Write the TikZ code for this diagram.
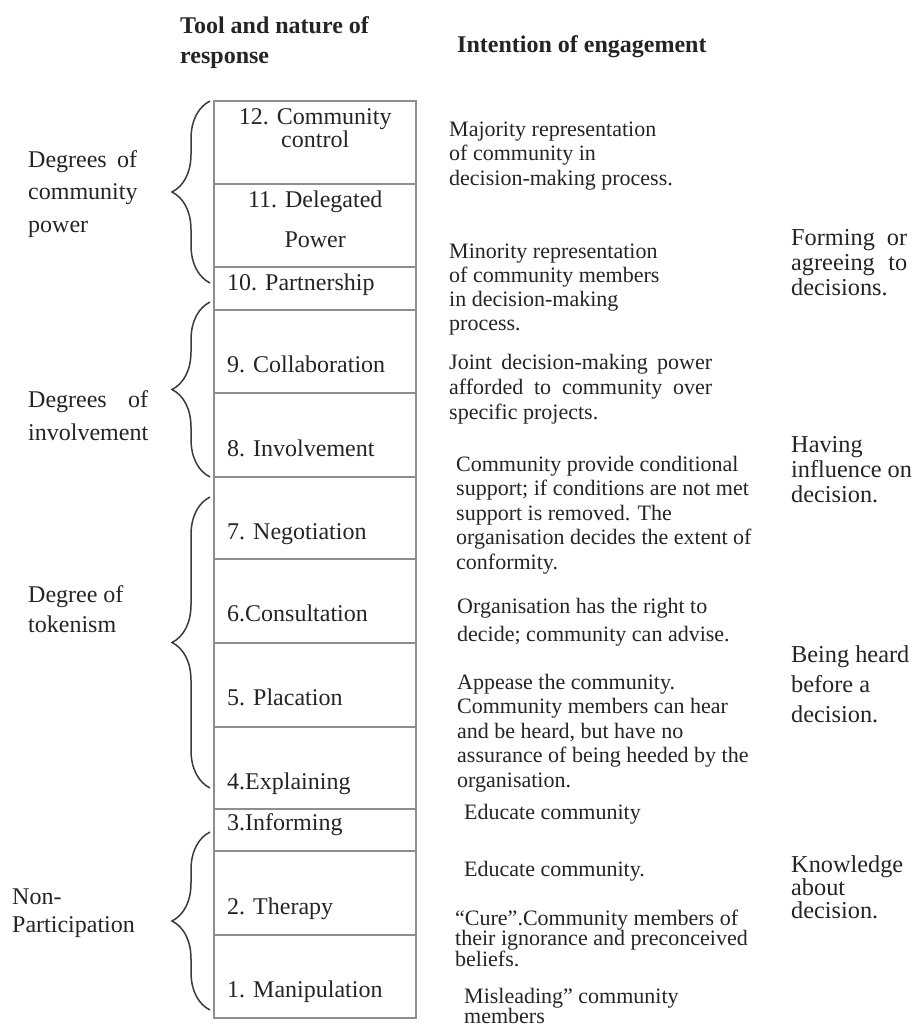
\documentclass[tikz,border=0pt]{standalone}
\usepackage{fontspec}
\setmainfont{Liberation Serif}
\usetikzlibrary{decorations.pathreplacing}
\definecolor{ink}{HTML}{242424}
\definecolor{rungline}{HTML}{8E8E8E}
\definecolor{bracecol}{HTML}{3A3A3A}
\newcommand\mlines[2]{\vtop{\baselineskip=#1pt\lineskiplimit=-100pt\lineskip=0pt\relax #2}}
\tikzset{
  rung/.style={draw=rungline, line width=1.6pt, minimum width=202pt, inner sep=0pt, outer sep=0pt},
  boxtxt/.style={font=\fontsize{24}{29}\selectfont, text=ink, inner sep=0pt, anchor=base west},
  lbl/.style={font=\fontsize{24}{29}\selectfont, text=ink, inner sep=0pt, anchor=base west},
  desc/.style={font=\fontsize{22}{24}\selectfont, text=ink, inner sep=0pt, anchor=base west},
  side/.style={font=\fontsize{24.3}{28}\selectfont, text=ink, inner sep=0pt, anchor=base west},
  hdr/.style={font=\bfseries\fontsize{24}{30}\selectfont, text=ink, inner sep=0pt, anchor=base west},
  brc/.style={draw=bracecol, line width=1.5pt, decorate, decoration={brace, amplitude=38pt}}
}
\begin{document}
\begin{tikzpicture}[x=1pt,y=-1pt]
\useasboundingbox (0,0) rectangle (914,1028);

% headers
\node[hdr] (h1) at (180,33) {\mlines{30}{\hbox{Tool and nature of}\hbox{response}}};
\node[hdr] (h2) at (457,52) {Intention of engagement};

% ladder rungs
\node[rung, minimum height=83pt] (r12) at (315,142.5) {};
\node[rung, minimum height=83pt] (r11) at (315,225.5) {};
\node[rung, minimum height=43pt] (r10) at (315,288.5) {};
\node[rung, minimum height=83pt] (r9)  at (315,351.5) {};
\node[rung, minimum height=84pt] (r8)  at (315,435) {};
\node[rung, minimum height=82pt] (r7)  at (315,518) {};
\node[rung, minimum height=84pt] (r6)  at (315,601) {};
\node[rung, minimum height=84pt] (r5)  at (315,685) {};
\node[rung, minimum height=82pt] (r4)  at (315,768) {};
\node[rung, minimum height=42pt] (r3)  at (315,830) {};
\node[rung, minimum height=84pt] (r2)  at (315,893) {};
\node[rung, minimum height=83pt] (r1)  at (315,976.5) {};

% rung labels
\node[boxtxt] (t12) at (225,124) {\mlines{23}{\hbox to 180pt{\hfil 12. Community\hfil}\hbox to 180pt{\hfil control\hfil}}};
\node[boxtxt] (t11) at (225,207) {\mlines{40}{\hbox to 180pt{\hfil 11. Delegated\hfil}\hbox to 180pt{\hfil Power\hfil}}};
\node[boxtxt] (t10) at (227,290) {10. Partnership};
\node[boxtxt] (t9)  at (227,372) {9. Collaboration};
\node[boxtxt] (t8)  at (227,456) {8. Involvement};
\node[boxtxt] (t7)  at (227,539) {7. Negotiation};
\node[boxtxt] (t6)  at (227,621) {6.Consultation};
\node[boxtxt] (t5)  at (227,705) {5. Placation};
\node[boxtxt] (t4)  at (227,789) {4.Explaining};
\node[boxtxt] (t3)  at (227,830) {3.Informing};
\node[boxtxt] (t2)  at (227,914) {2. Therapy};
\node[boxtxt] (t1)  at (227,997) {1. Manipulation};

% braces
\coordinate (b1s) at (210,283); \coordinate (b1e) at (210,101);
\coordinate (b2s) at (210,477); \coordinate (b2e) at (210,302);
\coordinate (b3s) at (210,788); \coordinate (b3e) at (210,497);
\coordinate (b4s) at (210,1010); \coordinate (b4e) at (210,832);
\draw[brc] (b1s) -- (b1e);
\draw[brc] (b2s) -- (b2e);
\draw[brc] (b3s) -- (b3e);
\draw[brc] (b4s) -- (b4e);

% group labels
\node[lbl] (g1) at (28,167) {\mlines{32.5}{\hbox to 109pt{Degrees\hfill of}\hbox{community}\hbox{power}}};
\node[lbl] (g2) at (28,407) {\mlines{33}{\hbox to 120pt{Degrees\hfill of}\hbox{involvement}}};
\node[lbl] (g3) at (28,602) {\mlines{30}{\hbox{Degree of}\hbox{tokenism}}};
\node[lbl] (g4) at (12,904) {\mlines{28}{\hbox{Non-}\hbox{Participation}}};

% descriptions
\node[desc] (d12) at (449,136) {\mlines{24.5}{\hbox{Majority representation}\hbox{of community in}\hbox{decision-making process.}}};
\node[desc] (d11) at (449,258) {\mlines{24.3}{\hbox{Minority representation}\hbox{of community members}\hbox{in decision-making}\hbox{process.}}};
\node[desc] (d9) at (449,369) {\mlines{25}{\hbox to 263pt{Joint\hfill decision-making\hfill power}\hbox to 263pt{afforded\hfill to\hfill community\hfill over}\hbox{specific projects.}}};
\node[desc] (d7) at (456,471) {\mlines{24.5}{\hbox{Community provide conditional}\hbox{support; if conditions are not met}\hbox{support is removed. The}\hbox{organisation decides the extent of}\hbox{conformity.}}};
\node[desc] (d6) at (457,613) {\mlines{28}{\hbox{Organisation has the right to}\hbox{decide; community can advise.}}};
\node[desc] (d5) at (457,689) {\mlines{24.5}{\hbox{Appease the community.}\hbox{Community members can hear}\hbox{and be heard, but have no}\hbox{assurance of being heeded by the}\hbox{organisation.}}};
\node[desc] (d3) at (464,819) {Educate community};
\node[desc] (d2a) at (464,876) {Educate community.};
\node[desc] (d2b) at (455,925) {\mlines{20.5}{\hbox{“Cure”.Community members of}\hbox{their ignorance and preconceived}\hbox{beliefs.}}};
\node[desc] (d1) at (464,1003) {\mlines{20.5}{\hbox{Misleading” community}\hbox{members}}};

% intention column
\node[side] (s1) at (791,245) {\mlines{25}{\hbox to 116pt{Forming\hfill or}\hbox to 116pt{agreeing\hfill to}\hbox{decisions.}}};
\node[side] (s2) at (791,452) {\mlines{25}{\hbox{Having}\hbox{influence on}\hbox{decision.}}};
\node[side] (s3) at (791,662) {\mlines{30}{\hbox{Being heard}\hbox{before a}\hbox{decision.}}};
\node[side] (s4) at (791,872) {\mlines{23}{\hbox{Knowledge}\hbox{about}\hbox{decision.}}};
\end{tikzpicture}
\end{document}
